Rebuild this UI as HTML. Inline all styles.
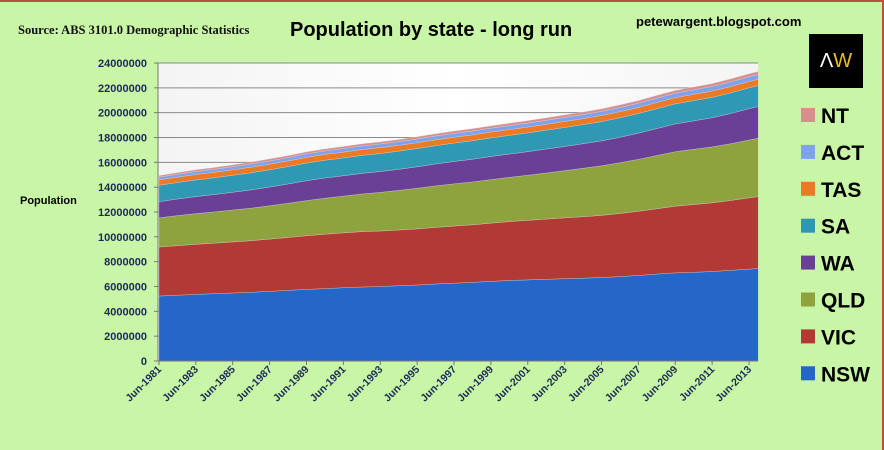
<!DOCTYPE html>
<html><head><meta charset="utf-8"><style>
body{margin:0;}
#wrap{position:relative;width:884px;height:450px;background:#c9f5a6;overflow:hidden;font-family:"Liberation Sans",sans-serif;}
#frame{position:absolute;left:0;top:0;width:882px;height:448px;border-top:2px solid #b5533c;border-right:2px solid #b5533c;box-sizing:content-box;}
</style></head><body>
<div id="wrap">
<div id="frame"></div>
<div style="position:absolute;left:18px;top:23px;font:bold 12.5px 'Liberation Serif',serif;color:#111;">Source: ABS 3101.0 Demographic Statistics</div>
<div style="position:absolute;left:290px;top:19px;font:bold 20px 'Liberation Sans',sans-serif;color:#000;">Population by state - long run</div>
<div style="position:absolute;left:636px;top:14px;font:bold 13px 'Liberation Sans',sans-serif;color:#000;">petewargent.blogspot.com</div>
<div style="position:absolute;left:809px;top:34px;width:54px;height:54px;background:#000;color:#fff;font:20px 'Liberation Sans',sans-serif;text-align:center;line-height:54px;">Λ<span style="color:#e8c020">W</span></div>
<div style="position:absolute;left:20px;top:195px;font:bold 11px 'Liberation Sans',sans-serif;color:#000;">Population</div>
<svg id="chart" width="884" height="450" style="position:absolute;left:0;top:0">
<defs><linearGradient id="pbg" x1="0" y1="0" x2="1" y2="0"><stop offset="0" stop-color="#f4f4f4"/><stop offset="0.5" stop-color="#ffffff"/><stop offset="1" stop-color="#f4f4f4"/></linearGradient></defs>
</svg>
</div>
<script>
const years=[1981,1982,1983,1984,1985,1986,1987,1988,1989,1990,1991,1992,1993,1994,1995,1996,1997,1998,1999,2000,2001,2002,2003,2004,2005,2006,2007,2008,2009,2010,2011,2012,2013,2013.5];
const seriesNames=["NSW","VIC","QLD","WA","SA","TAS","ACT","NT"];
const seriesColors=["#2467c8","#b33a34","#8ea33e","#6a3f96","#2f98b2","#ea7a26","#7fa2ec","#d98e8e"];
const nsw=[5.23,5.30,5.37,5.42,5.48,5.53,5.61,5.69,5.77,5.83,5.90,5.96,6.00,6.06,6.12,6.20,6.27,6.33,6.41,6.49,6.53,6.58,6.63,6.67,6.72,6.80,6.89,7.00,7.10,7.14,7.21,7.30,7.40,7.45];
const vic=[3.95,3.99,4.03,4.07,4.11,4.16,4.21,4.26,4.32,4.38,4.42,4.46,4.47,4.49,4.52,4.56,4.60,4.64,4.69,4.74,4.80,4.85,4.90,4.95,5.01,5.08,5.17,5.26,5.37,5.46,5.53,5.63,5.74,5.79];
const qld=[2.35,2.42,2.47,2.52,2.57,2.62,2.68,2.75,2.83,2.90,2.96,3.03,3.11,3.19,3.27,3.34,3.40,3.45,3.51,3.56,3.63,3.71,3.80,3.90,3.99,4.09,4.18,4.29,4.38,4.45,4.50,4.57,4.66,4.70];
const wa=[1.30,1.34,1.37,1.40,1.43,1.47,1.51,1.56,1.60,1.63,1.64,1.66,1.68,1.70,1.73,1.77,1.80,1.83,1.86,1.88,1.90,1.93,1.95,1.98,2.01,2.05,2.11,2.17,2.24,2.29,2.35,2.43,2.52,2.55];
const sa=[1.32,1.33,1.34,1.35,1.37,1.38,1.39,1.40,1.42,1.43,1.43,1.45,1.45,1.46,1.47,1.47,1.48,1.49,1.50,1.50,1.51,1.52,1.53,1.54,1.55,1.57,1.58,1.60,1.62,1.63,1.64,1.66,1.68,1.69];
const tas=[0.43,0.43,0.44,0.44,0.44,0.45,0.45,0.45,0.46,0.47,0.47,0.47,0.47,0.47,0.47,0.47,0.47,0.47,0.47,0.47,0.47,0.47,0.48,0.48,0.49,0.49,0.49,0.50,0.50,0.51,0.51,0.51,0.51,0.51];
const act=[0.23,0.23,0.24,0.24,0.25,0.26,0.27,0.27,0.28,0.28,0.29,0.29,0.30,0.30,0.30,0.31,0.31,0.31,0.31,0.32,0.32,0.32,0.33,0.33,0.33,0.34,0.34,0.35,0.36,0.36,0.37,0.38,0.38,0.39];
const nt=[0.12,0.13,0.14,0.14,0.15,0.15,0.16,0.16,0.16,0.16,0.17,0.17,0.17,0.17,0.18,0.18,0.19,0.19,0.19,0.19,0.20,0.20,0.20,0.20,0.21,0.21,0.21,0.22,0.22,0.23,0.23,0.24,0.24,0.24];
const yTicks=[0,2000000,4000000,6000000,8000000,10000000,12000000,14000000,16000000,18000000,20000000,22000000,24000000];
const xTickYears=[1981,1983,1985,1987,1989,1991,1993,1995,1997,1999,2001,2003,2005,2007,2009,2011,2013];

const NS="http://www.w3.org/2000/svg";
const svg=document.getElementById('chart');
const L=158,R=758,T=63,B=361;
const x=v=>159+(v-1981)*(749-159)/32;
const y=v=>B-(v/24000000)*(B-T);
function mk(tag,attrs){const e=document.createElementNS(NS,tag);for(const k in attrs)e.setAttribute(k,attrs[k]);return e;}
const bg=mk('rect',{x:L,y:T,width:R-L,height:B-T,fill:'url(#pbg)'});


svg.appendChild(bg);
yTicks.forEach(t=>{
  if(t>0){const g=mk('line',{x1:L,x2:R,y1:y(t),y2:y(t),stroke:'#8a8a8a','stroke-width':1});
  
  
  svg.appendChild(g);}
  const tx=mk('text',{x:147,y:y(t)+4,'text-anchor':'end','font-size':'11','font-weight':'bold',fill:'#1c2a55','font-family':'Liberation Sans, sans-serif'});
  tx.textContent=String(t);
  
  
  svg.appendChild(tx);
  const tk=mk('line',{x1:L-4,x2:L,y1:y(t),y2:y(t),stroke:'#777'});
  svg.appendChild(tk);
});
const data=[nsw,vic,qld,wa,sa,tas,act,nt];
let base=years.map(()=>0);
data.forEach((s,i)=>{
  const top=base.map((b,j)=>b+s[j]*1e6);
  let d='M'+years.map((yr,j)=>x(yr)+','+y(top[j])).join(' L');
  for(let j=years.length-1;j>=0;j--)d+=' L'+x(years[j])+','+y(base[j]);
  d+='Z';
  const p=mk('path',{d:d,fill:seriesColors[i],stroke:'#ddd','stroke-width':0.3});
  
  
  svg.appendChild(p);
  base=top;
});
svg.appendChild(mk('line',{x1:L,x2:L,y1:T,y2:B,stroke:'#777'}));
svg.appendChild(mk('line',{x1:L,x2:R,y1:B,y2:B,stroke:'#777'}));
xTickYears.forEach(yr=>{
  svg.appendChild(mk('line',{x1:x(yr),x2:x(yr),y1:B,y2:B+4,stroke:'#777'}));
  const tx=mk('text',{x:x(yr)+3,y:B+9,'text-anchor':'end','font-size':'10.5','font-weight':'bold',fill:'#1c2a55','font-family':'Liberation Sans, sans-serif',transform:'rotate(-45 '+(x(yr)+3)+' '+(B+9)+')'});
  tx.textContent='Jun-'+yr;
  
  
  svg.appendChild(tx);
});
const legendOrder=[7,6,5,4,3,2,1,0];
legendOrder.forEach((si,k)=>{
  const cy=115+k*36.9;
  const r=mk('rect',{x:801,y:cy-7,width:14,height:14,fill:seriesColors[si]});
  
  
  svg.appendChild(r);
  const t=mk('text',{x:821,y:cy+8,'font-size':'21','font-weight':'bold',fill:'#000','font-family':'Liberation Sans, sans-serif'});
  t.textContent=seriesNames[si];
  
  
  svg.appendChild(t);
});
</script>
</body></html>
